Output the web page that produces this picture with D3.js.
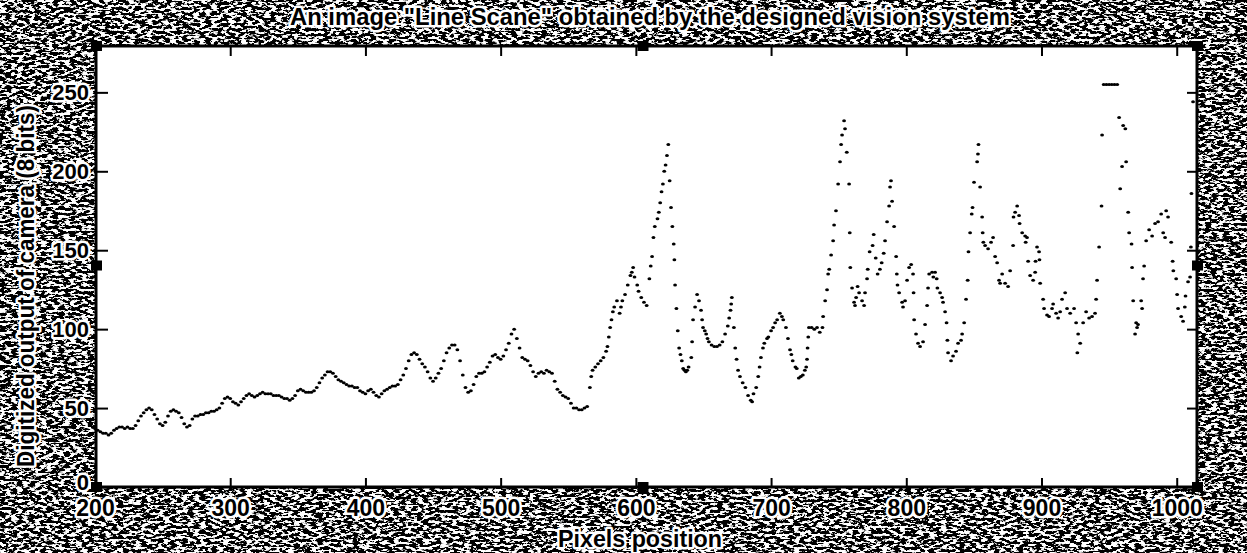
<!DOCTYPE html>
<html>
<head>
<meta charset="utf-8">
<script src="https://cdn.jsdelivr.net/npm/d3@7"></script>
<style>
  html, body { margin: 0; padding: 0; background: #fff; }
  svg { display: block; }
</style>
</head>
<body>
<svg id="chart" width="1247" height="553"></svg>
<script>
// Axis ticks and labels
const xTicks = [200, 300, 400, 500, 600, 700, 800, 900, 1000];
const yTicks = [0, 50, 100, 150, 200, 250];
const titleText = 'An image "Line Scane" obtained by the designed vision system';
const xLabel = 'Pixels position';
const yLabel = 'Digitized output of camera (8 bits)';

// Line scan samples: [pixel position, digitized level 0-255]
const scanLeft = [
  [200,37],[202,36],[204,35],[206,34],[208,34],[210,33],[212,34],[214,36],[216,37],[218,38],
  [220,38],[222,37],[224,38],[226,37],[228,37],[230,39],[232,42],[234,45],[236,47],[238,49],
  [240,50],[242,49],[244,46],[246,43],[248,40],[250,39],[252,41],[254,45],[256,48],[258,49],
  [260,48],[262,47],[264,44],[266,40],[268,38],[270,39],[272,43],[274,45],[276,45],[278,46],
  [280,46],[282,47],[284,47],[286,48],[288,48],[290,49],[292,50],[294,53],[296,56],[298,57],
  [300,56],[302,54],[304,53],[306,52],[308,54],[310,56],[312,58],[314,59],[316,58],[318,57],
  [320,58],[322,59],[324,60],[326,59],[328,59],[330,59],[332,58],[334,58],[336,58],[338,57],
  [340,56],[342,56],[344,55],[346,56],[348,58],[350,61],[352,62],[354,61],[356,60],[358,60],
  [360,60],[362,61],[364,63],[366,66],[368,69],[370,71],[372,73],[374,73],[376,72],[378,70],
  [380,68],[382,67],[384,66],[386,65],[388,64],[390,64],[392,63],[394,63],[396,61],[398,60],
  [400,59],[402,61],[404,62],[406,60],[408,58],[410,57],[412,59],[414,61],[416,62],[418,63],
  [420,64],[422,64],[424,65],[426,68],[428,71],[430,75],[432,80],[434,84],[436,85],[438,84],
  [440,81],[442,78],[444,76],[446,73],[448,69],[450,67],[452,69],[454,72],[456,75],[458,80],
  [460,85],[462,88],[464,90],[466,90],[468,87],[470,80],[472,71],[474,63],[476,60],[478,61],
  [480,65],[482,70],[484,72],[486,72],[488,73],[490,76],[492,79],[494,83],[496,84],[498,82],
  [500,81],[502,83],[504,87],[506,91],[508,97],[510,100],[512,94],[514,88],[516,82],[518,81],
  [520,80],[522,77],[524,73],[526,70],[528,72],[530,73],[532,72],[534,74],[536,73],[538,72],
  [540,67],[542,62],[544,60],[546,58],[548,57],[550,56],[552,53],[554,50],[556,50],[558,49],
  [560,49],[562,50],[564,51]
];

const scanMid = [
  [566,63],[567,70],[568,74],[570,76],[572,78],[574,80],[576,82],[578,86],[579,89],[580,95],
  [581,101],[582,106],[583,111],[584,114],[586,118],[588,110],[589,114],[590,118],[592,122],[594,128],
  [596,134],[597,136],[598,139],[599,133],[601,128],[602,124],[604,120],[606,117],[608,115],[610,132],
  [611,140],[612,146],[613,158],[614,165],[616,170],[617,174],[618,180],[619,187],[620,192],[621,200],
  [622,204],[623,210],[624,217],[625,194],[626,177],[627,165],[628,154],[628.5,144],[629,128],[630,113],
  [631,99],[632,88],[633,84],[634,80],[635,75],[636,74],[637,73],[638,74],[639,76],[641,82],
  [641.6,92],[642.3,106],[643.8,114],[645.3,122],[646.7,118],[648.2,112],[649,106],[649.7,101],[651,99],[652,97],
  [653,94],[654,92],[656,90],[658,89],[660,89],[662,90],[664,92],[666,97],[668,102],[669,107],
  [670,112],[670.5,116],[671,120],[672.5,101],[673.5,88],[674.5,81],[675.6,74],[677,70],[679,66],[681,63],
  [683,58],[685,55],[686,54],[687,59],[689,63],[690.5,70],[691.5,76],[692.5,82],[694,88],[695,91],
  [697,94],[698,95],[700,99],[701.5,101],[703,104],[704.5,106],[706.5,110],[708,108],[709,106],[711,101],
  [712.5,94],[714,87],[715,84],[716,80],[718,76],[719,75],[720.5,69],[722,70],[723.5,71],[725,74],
  [726,76],[726.6,81],[727,88],[727.5,95],[728,101],[730,101],[732,100],[734,101],[736,98],[738,101],
  [738.5,108],[740,118],[741.4,125],[742.2,135],[743,138],[744.4,147],[745.9,156],[746.6,166],[748,175],[749.6,192],
  [751,206],[751.8,217],[752.5,223],[754,232],[754.7,227],[756,212],[757.7,192],[758.2,161],[758.6,139],[759.9,126],
  [761.4,117],[762.1,115],[762.9,120],[764,127],[765.1,123],[767.3,118],[768.8,115],[769.5,123],[771,132],[771.5,138],
  [772.9,149],[775.1,153],[775.9,160],[777.4,145],[778.8,135],[780.5,138],[781.8,142],[783.3,148],[784.3,156],[785.8,168],
  [787.3,178],[788,190],[788.7,194],[789.5,181],[791,165],[792.5,146],[793,135],[793.5,128],[794.7,123],[796.9,117],
  [797.6,114],[799.1,118],[800.6,131],[802.1,139],[803.6,141],[805,135],[805.4,123],[805.8,106],[807.2,97],[808.7,91],
  [810.2,89],[812.4,92],[813.9,103],[815.4,115],[816.1,126],[816.9,135],[819.1,136],[820,133],[821.3,136],[822.5,132],
  [823,126],[825,123],[826.5,120],[827.2,117],[828.7,111],[829.8,104],[830.4,93],[830.9,85],[833.1,80],[834.6,83],
  [836.8,86],[838.3,91],[840.5,93],[841.3,97],[842.8,104],[844.2,119],[845.4,131],[846,149],[847.2,161],[848.4,173],
  [849,177],[850.1,193],[852.4,206],[853,211],[853.4,217],[854.6,190],[856.1,171],[856.5,161],[857,155],[858.3,153],
  [860.5,151],[862.7,155],[864.2,158],[865.7,146],[867.2,142],[868.6,131],[869.4,129],[870.9,135],[873.1,129],[875.3,127],
  [876.8,137]
];

const scanRight = [
  [879,153],[879.3,171],[880.5,174],[882,178],[883.4,172],[883.8,167],[885.7,161],[887.9,159],[888.3,155],[889.3,158],
  [890.1,143],[891.6,134],[893.8,131],[895.3,136],[895.6,143],[896.7,152],[898.2,149],[898.5,144],[899,129],[901.2,119],
  [901.9,113],[904.1,109],[905.6,108],[907.8,113],[908.6,116],[910.8,110],[912.3,107],[913.8,111],[915.2,119],[917.5,123],
  [918.9,113],[921.2,110],[924.1,113],[925.6,104],[926.5,85],[927.1,97],[928.6,91],[930.8,104],[933,111],[935.2,107],
  [937.4,108],[939.6,110],[940.4,119],[941.1,131],[942.6,152],[944.4,178],[944.8,223],[946,255],[948,255],[950,255],
  [952,255],[954,255],[956,255],[957.4,234],[958.2,189],[959.6,203],[960.4,229],[962,227],[962.6,206],[964.1,174],
  [964.8,161],[966.6,154],[967,139],[967.8,118],[969.2,97],[970,104],[970.7,101],[971.4,103],[973.7,118],[974.4,113],
  [975.1,132],[975.9,140],[977.4,156],[979.6,163],[981.8,159],[984,167],[986.2,168],[988.5,173],[990,161],[991.4,158],
  [992.2,175],[993.6,171],[995.9,155],[997,143],[997.5,137],[999.6,132],[1000.3,122],[1001,113],[1003.3,108],[1004.7,105],
  [1006,114],[1006.5,121],[1008.4,130],[1009.9,133],[1010.5,152],[1010.9,186],[1012.1,244]
];

const samples = scanLeft.concat(scanMid, scanRight);

const W = 1247, H = 553;
const plot = { left: 96, right: 1197, top: 46, bottom: 487 };
const x = d3.scaleLinear().domain([200, 1015]).range([95, 1197]);
const y = d3.scaleLinear().domain([0, 280]).range([487, 45]);

const svg = d3.select('#chart');
const FONT = '"Liberation Sans", Arial, sans-serif';

// Speckled halftone paper behind the axes
const defs = svg.append('defs');
const grain = defs.append('filter')
  .attr('id', 'speckle')
  .attr('filterUnits', 'userSpaceOnUse')
  .attr('x', 0).attr('y', 0).attr('width', W).attr('height', H);
grain.append('feTurbulence')
  .attr('type', 'fractalNoise')
  .attr('baseFrequency', '0.17 0.38')
  .attr('numOctaves', 3)
  .attr('seed', 7)
  .attr('result', 'noise');
grain.append('feColorMatrix')
  .attr('type', 'matrix')
  .attr('values', '1 0 0 0 0  1 0 0 0 0  1 0 0 0 0  0 0 0 0 1');
const ct = grain.append('feComponentTransfer');
['feFuncR', 'feFuncG', 'feFuncB'].forEach(f =>
  ct.append(f).attr('type', 'linear').attr('slope', 14).attr('intercept', -6.95));
ct.append('feFuncA').attr('type', 'linear').attr('slope', 0).attr('intercept', 1);

svg.append('rect')
  .attr('width', W).attr('height', H)
  .attr('fill', '#888')
  .attr('filter', 'url(#speckle)');

// Plot area
svg.append('rect')
  .attr('x', plot.left).attr('y', plot.top)
  .attr('width', plot.right - plot.left)
  .attr('height', plot.bottom - plot.top)
  .attr('fill', '#fff');

// Scan samples as dots
svg.append('g')
  .selectAll('ellipse')
  .data(samples)
  .join('ellipse')
  .attr('cx', d => x(d[0]))
  .attr('cy', d => y(d[1]))
  .attr('rx', 1.9)
  .attr('ry', 1.5)
  .attr('fill', '#000');

// Axes with inward ticks
function styleAxis(g) {
  g.select('.domain').remove();
  g.selectAll('.tick line').attr('stroke', '#000').attr('stroke-width', 2);
}
function haloText(sel, size) {
  sel.attr('font-family', FONT)
    .attr('font-weight', 'bold')
    .attr('font-size', size)
    .attr('fill', '#000')
    .attr('stroke', '#fff')
    .attr('stroke-width', 5)
    .attr('stroke-linejoin', 'round')
    .attr('paint-order', 'stroke');
}

svg.append('g')
  .attr('transform', `translate(0,${plot.bottom})`)
  .call(d3.axisBottom(x).tickValues(xTicks).tickSize(-9).tickPadding(13).tickFormat(d3.format('d')))
  .call(styleAxis)
  .call(g => haloText(g.selectAll('text'), 23));

svg.append('g')
  .attr('transform', `translate(0,${plot.top})`)
  .call(d3.axisTop(x).tickValues(xTicks).tickSize(-10).tickFormat(''))
  .call(styleAxis);

svg.append('g')
  .attr('transform', `translate(${plot.left},0)`)
  .call(d3.axisLeft(y).tickValues(yTicks).tickSize(-12).tickPadding(7).tickFormat(d3.format('d')))
  .call(styleAxis)
  .call(g => haloText(g.selectAll('text'), 22))
  .call(g => g.selectAll('.tick text').filter(d => d === 0).attr('dy', '0.1em'));

svg.append('g')
  .attr('transform', `translate(${plot.right},0)`)
  .call(d3.axisRight(y).tickValues(yTicks).tickSize(-10).tickFormat(''))
  .call(styleAxis);

// Frame
svg.append('rect')
  .attr('x', plot.left).attr('y', plot.top)
  .attr('width', plot.right - plot.left)
  .attr('height', plot.bottom - plot.top)
  .attr('fill', 'none')
  .attr('stroke', '#000')
  .attr('stroke-width', 3);

// Selection handles on the axes box
const hx = [plot.left, (plot.left + plot.right) / 2 - 4, plot.right];
const hy = [plot.top, (plot.top + plot.bottom) / 2 - 1, plot.bottom];
const handles = [];
hx.forEach((px, i) => hy.forEach((py, j) => { if (!(i === 1 && j === 1)) handles.push([px, py]); }));
svg.append('g')
  .selectAll('rect')
  .data(handles)
  .join('rect')
  .attr('x', d => d[0] - 5)
  .attr('y', d => d[1] - 5)
  .attr('width', 11)
  .attr('height', 10)
  .attr('fill', '#000');

// Titles
svg.append('text')
  .attr('x', 290).attr('y', 25)
  .attr('textLength', 720)
  .attr('lengthAdjust', 'spacingAndGlyphs')
  .text(titleText)
  .call(s => haloText(s, 24));

svg.append('text')
  .attr('x', 558).attr('y', 547)
  .attr('textLength', 164)
  .attr('lengthAdjust', 'spacingAndGlyphs')
  .text(xLabel)
  .call(s => haloText(s, 24));

svg.append('text')
  .attr('transform', 'translate(34,467) rotate(-90)')
  .attr('x', 0).attr('y', 0)
  .attr('textLength', 362)
  .attr('lengthAdjust', 'spacingAndGlyphs')
  .text(yLabel)
  .call(s => haloText(s, 24));
</script>
</body>
</html>
